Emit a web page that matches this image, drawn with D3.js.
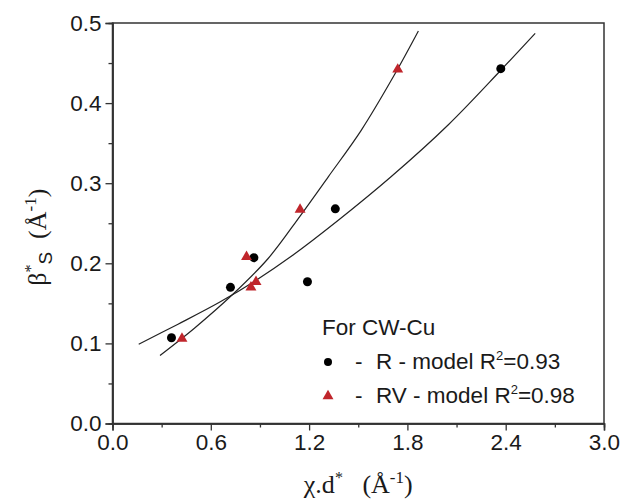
<!DOCTYPE html>
<html>
<head>
<meta charset="utf-8">
<script src="https://cdn.jsdelivr.net/npm/d3@7"></script>
<style>
  body { margin: 0; background: #fff; }
  svg text { font-family: "Liberation Sans", Arial, sans-serif; }
</style>
</head>
<body>
<svg id="chart" width="622" height="500"></svg>
<script>
// measured points
var rX  = [0.36, 0.72, 0.863, 1.19, 1.36, 2.37];
var rY  = [0.107, 0.170, 0.207, 0.177, 0.268, 0.443];
var rvX = [0.424, 0.818, 0.845, 0.876, 1.145, 1.741];
var rvY = [0.106, 0.208, 0.170, 0.177, 0.267, 0.442];

// fitted curves
var rCurveX  = [0.16, 0.40, 0.65, 0.87, 1.10, 1.38, 1.70, 2.05, 2.37, 2.58];
var rCurveY  = [0.099, 0.124, 0.151, 0.178, 0.210, 0.254, 0.308, 0.373, 0.441, 0.487];
var rvCurveX = [0.29, 0.50, 0.733, 0.95, 1.145, 1.317, 1.518, 1.72, 1.867];
var rvCurveY = [0.085, 0.119, 0.161, 0.206, 0.259, 0.308, 0.366, 0.435, 0.490];

var xTicks = [0, 0.6, 1.2, 1.8, 2.4, 3.0];
var xMinor = [0.3, 0.9, 1.5, 2.1, 2.7];
var yTicks = [0, 0.1, 0.2, 0.3, 0.4, 0.5];
var yMinor = [0.05, 0.15, 0.25, 0.35, 0.45];

var legendTitle = "For CW-Cu";
var legendR  = ["R - model R", "=0.93"];
var legendRV = ["RV - model R", "=0.98"];

(function() {
var svg = d3.select('#chart');
var pl = 112.5, pr = 604, pt = 23, pb = 423.5;
var red = '#c0262c';
var ink = '#1a1a1a';

var x = d3.scaleLinear().domain([0, 3]).range([pl, pr]);
var y = d3.scaleLinear().domain([0, 0.5]).range([pb, pt]);

function zip(a, b) { return a.map(function(v, i) { return [v, b[i]]; }); }

//frame
svg.append('rect')
	.attr('x', pl).attr('y', pt)
	.attr('width', pr - pl).attr('height', pb - pt)
	.attr('fill', 'none').attr('stroke', '#333').attr('stroke-width', 1.5);

//y axis
svg.append('g').attr('transform', 'translate(' + pl + ',0)')
	.call(d3.axisLeft(y).tickValues(yTicks).tickFormat(d3.format('.1f')).tickSize(7).tickPadding(4));
svg.append('g').attr('transform', 'translate(' + pl + ',0)')
	.call(d3.axisLeft(y).tickValues(yMinor).tickFormat('').tickSize(4));

//x axis
svg.append('g').attr('transform', 'translate(0,' + pb + ')')
	.call(d3.axisBottom(x).tickValues(xTicks).tickFormat(d3.format('.1f')).tickSize(7).tickPadding(4));
svg.append('g').attr('transform', 'translate(0,' + pb + ')')
	.call(d3.axisBottom(x).tickValues(xMinor).tickFormat('').tickSize(4));

svg.selectAll('.domain').attr('stroke', '#333').attr('stroke-width', 1.5);
svg.selectAll('.tick line').attr('stroke', '#333').attr('stroke-width', 1.3);
svg.selectAll('.tick text').attr('font-size', 22.5).attr('fill', ink)
	.style('font-family', '"Liberation Sans", Arial, sans-serif');

//curves
var line = d3.line().x(function(d) { return x(d[0]); }).y(function(d) { return y(d[1]); })
	.curve(d3.curveCatmullRom.alpha(0.5));
[zip(rCurveX, rCurveY), zip(rvCurveX, rvCurveY)].forEach(function(c) {
	svg.append('path').datum(c).attr('d', line)
		.attr('fill', 'none').attr('stroke', '#222').attr('stroke-width', 1.2);
});

//points
svg.selectAll('.pt-r').data(zip(rX, rY)).enter().append('circle')
	.attr('cx', function(d) { return x(d[0]); })
	.attr('cy', function(d) { return y(d[1]); })
	.attr('r', 4.5).attr('fill', '#000');

var tri = d3.symbol().type(d3.symbolTriangle).size(52);
svg.selectAll('.pt-rv').data(zip(rvX, rvY)).enter().append('path')
	.attr('d', tri)
	.attr('transform', function(d) { return 'translate(' + x(d[0]) + ',' + y(d[1]) + ')'; })
	.attr('fill', red);

//legend
var lg = svg.append('g').attr('font-size', 22.5).attr('fill', ink);
lg.append('text').attr('x', 322).attr('y', 335).text(legendTitle);
lg.append('circle').attr('cx', 328).attr('cy', 362).attr('r', 4).attr('fill', '#000');
lg.append('text').attr('x', 355).attr('y', 369).text('-');
var t1 = lg.append('text').attr('x', 376).attr('y', 369);
t1.append('tspan').text(legendR[0]);
t1.append('tspan').attr('dy', -9).attr('font-size', 13).text('2');
t1.append('tspan').attr('dy', 9).text(legendR[1]);
lg.append('path').attr('d', tri).attr('transform', 'translate(328,396)').attr('fill', red);
lg.append('text').attr('x', 355).attr('y', 403).text('-');
var t2 = lg.append('text').attr('x', 376).attr('y', 403);
t2.append('tspan').text(legendRV[0]);
t2.append('tspan').attr('dy', -9).attr('font-size', 13).text('2');
t2.append('tspan').attr('dy', 9).text(legendRV[1]);

//axis titles
var serif = '"Liberation Serif", "Times New Roman", serif';
var xt = svg.append('text').attr('x', (pl + pr) / 2).attr('y', 493)
	.attr('text-anchor', 'middle').attr('font-size', 26).style('font-family', serif).attr('fill', ink);
xt.append('tspan').text('\u03c7.d');
xt.append('tspan').attr('dy', -10).attr('font-size', 16).text('*');
xt.append('tspan').attr('dy', 10).text('\u00a0\u00a0\u00a0(\u00c5');
xt.append('tspan').attr('dy', -10).attr('font-size', 17).text('-1');
xt.append('tspan').attr('dy', 10).text(')');

var yt = svg.append('text').attr('transform', 'translate(46,' + ((pt + pb) / 2 + 14) + ') rotate(-90)')
	.attr('text-anchor', 'middle').attr('font-size', 26).style('font-family', serif).attr('fill', ink);
yt.append('tspan').text('\u03b2');
yt.append('tspan').attr('dy', -10).attr('font-size', 16).text('*');
yt.append('tspan').attr('dy', 16).attr('font-size', 19).style('font-family', '"Liberation Sans", Arial, sans-serif').text('S');
yt.append('tspan').attr('dy', -6).text('\u00a0\u00a0(\u00c5');
yt.append('tspan').attr('dy', -10).attr('font-size', 17).text('-1');
yt.append('tspan').attr('dy', 10).text(')');
})();
</script>
</body>
</html>
